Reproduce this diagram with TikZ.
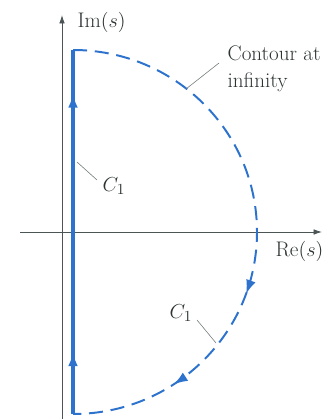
\documentclass[tikz,border=0pt]{standalone}
\usetikzlibrary{arrows.meta,decorations.markings}
\definecolor{contour}{RGB}{45,115,205}
\definecolor{axisgray}{RGB}{75,85,85}

\begin{document}
\begin{tikzpicture}[x=0.025cm,y=0.025cm,
  axis/.style={axisgray,line width=0.6pt,-{Latex[length=6pt,width=4pt]}},
  leader/.style={axisgray!80,line width=0.4pt},
  lbl/.style={font=\fontsize{15}{19}\selectfont,text=axisgray!60!black,inner sep=1pt},
  tip/.style={-{Latex[length=8pt,width=6pt]}}]
\useasboundingbox (0,0) rectangle (331,-419);
  % axes
  \coordinate (xl) at (20,-232);
  \coordinate (xr) at (322,-232);
  \coordinate (yb) at (62,-419);
  \coordinate (yt) at (62,-15);
  \draw[axis] (xl) -- (xr);
  \draw[axis] (yb) -- (yt);
  \node[lbl,anchor=west] (im) at (76,-22) {Im$(s)$};
  \node[lbl,anchor=north east] (re) at (325,-240) {Re$(s)$};
  % contour
  \coordinate (top) at (73,-50);
  \coordinate (bot) at (73,-414);
  \draw[contour,line width=2.4pt,
    postaction={decorate,decoration={markings,
      mark=at position 0.17 with {\arrow[contour]{Latex[length=10pt,width=7pt]}},
      mark=at position 0.88 with {\arrow[contour]{Latex[length=10pt,width=7pt]}}}}]
    (bot) -- (top);
  \draw[contour,line width=1.4pt,dash pattern=on 10pt off 5.5pt,
    postaction={decorate,decoration={markings,
      mark=at position 0.61 with {\arrow[contour,solid]{Latex[length=10pt,width=7pt]}},
      mark=at position 0.815 with {\arrow[contour,solid]{Latex[length=10pt,width=7pt]}}}}]
    (top) arc[start angle=90,end angle=-90,x radius=184,y radius=182];
  % labels
  \coordinate (pinf) at (186,-89);
  \coordinate (pc1) at (77,-162);
  \coordinate (pc2) at (216,-343);
  \node[lbl,anchor=north west,align=left] (cinf) at (226,-44) {Contour at\\infinity};
  \node[lbl] (c1a) at (114,-186) {$C_1$};
  \node[lbl] (c1b) at (181,-313) {$C_1$};
  \draw[leader] (pinf) -- (219,-63);
  \draw[leader] (pc1) -- (97,-180);
  \draw[leader] (pc2) -- (197,-320);
\end{tikzpicture}
\end{document}
